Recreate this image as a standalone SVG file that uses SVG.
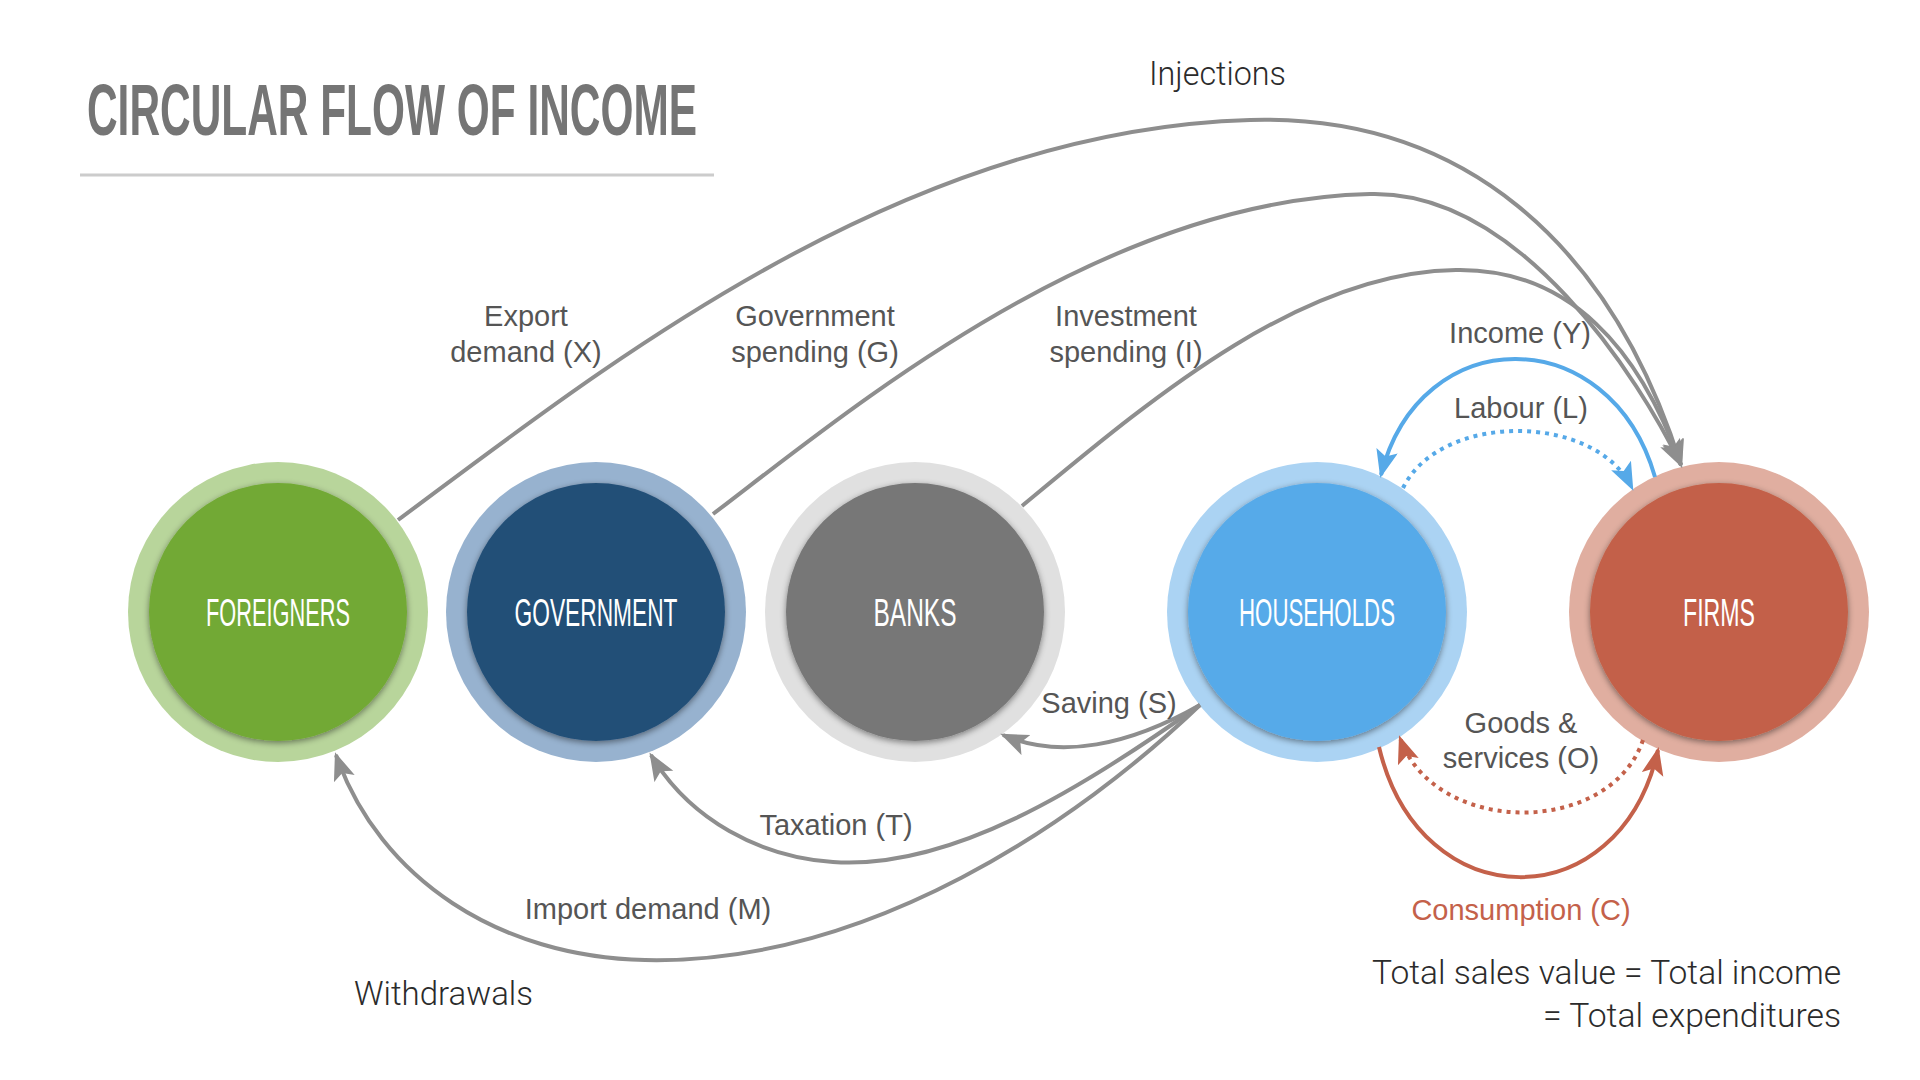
<svg xmlns="http://www.w3.org/2000/svg" width="1920" height="1080" viewBox="0 0 1920 1080">
<style>
.title{font-family:"Liberation Sans",Arial,sans-serif;font-weight:bold;font-size:72px;fill:#757575}
.node{font-family:"Liberation Sans",Arial,sans-serif;font-size:39px;fill:#ffffff;text-anchor:middle}
.lbl{font-family:"Liberation Sans",Arial,sans-serif;font-size:29px;fill:#555555;text-anchor:middle}
.light{font-family:Roboto,"Liberation Sans",sans-serif;font-weight:300;font-size:33px;fill:#2b2b2b}
.g{fill:none;stroke:#8e8e8e;stroke-width:4}
.b{fill:none;stroke:#56a9e8;stroke-width:4}
.r{fill:none;stroke:#c4614a;stroke-width:4}
.dot{stroke-dasharray:4 5}
</style>
<defs>
<filter id="sh" x="-20%" y="-20%" width="140%" height="140%">
<feDropShadow dx="0" dy="2" stdDeviation="3" flood-color="#000" flood-opacity="0.45"/>
</filter>
<marker id="ag" markerUnits="userSpaceOnUse" markerWidth="30" markerHeight="24" refX="25" refY="11" orient="auto"><path d="M0,0 L28,11 L0,22 L6,11 Z" fill="#8e8e8e"/></marker>
<marker id="ab" markerUnits="userSpaceOnUse" markerWidth="30" markerHeight="24" refX="25" refY="11" orient="auto"><path d="M0,0 L28,11 L0,22 L6,11 Z" fill="#56a9e8"/></marker>
<marker id="ar" markerUnits="userSpaceOnUse" markerWidth="30" markerHeight="24" refX="25" refY="11" orient="auto"><path d="M0,0 L28,11 L0,22 L6,11 Z" fill="#c4614a"/></marker>
</defs>
<rect width="1920" height="1080" fill="#ffffff"/>
<text class="title" x="87" y="135" textLength="610" lengthAdjust="spacingAndGlyphs">CIRCULAR FLOW OF INCOME</text>
<line x1="80" y1="175" x2="714" y2="175" stroke="#cccccc" stroke-width="3"/>

<g id="foreigners">
<circle cx="278" cy="612" r="150" fill="#b8d59b"/>
<circle cx="278" cy="612" r="129" fill="#72a934" filter="url(#sh)"/>
<text class="node" x="278" y="626" textLength="144" lengthAdjust="spacingAndGlyphs">FOREIGNERS</text>
</g>
<g id="government">
<circle cx="596" cy="612" r="150" fill="#97b2cf"/>
<circle cx="596" cy="612" r="129" fill="#244f77" filter="url(#sh)"/>
<text class="node" x="596" y="626" textLength="163" lengthAdjust="spacingAndGlyphs">GOVERNMENT</text>
</g>
<g id="banks">
<circle cx="915" cy="612" r="150" fill="#e0e0e0"/>
<circle cx="915" cy="612" r="129" fill="#777777" filter="url(#sh)"/>
<text class="node" x="915" y="626" textLength="83" lengthAdjust="spacingAndGlyphs">BANKS</text>
</g>
<g id="households">
<circle cx="1317" cy="612" r="150" fill="#abd3f3"/>
<circle cx="1317" cy="612" r="129" fill="#57aae9" filter="url(#sh)"/>
<text class="node" x="1317" y="626" textLength="156" lengthAdjust="spacingAndGlyphs">HOUSEHOLDS</text>
</g>
<g id="firms">
<circle cx="1719" cy="612" r="150" fill="#e0aea0"/>
<circle cx="1719" cy="612" r="129" fill="#c36148" filter="url(#sh)"/>
<text class="node" x="1719" y="626" textLength="72" lengthAdjust="spacingAndGlyphs">FIRMS</text>
</g>

<g id="connectors">
<path class="g" d="M398,520 C600,370 900,130 1250,120 C1460,114 1610,240 1681,465" marker-end="url(#ag)"/>
<path class="g" d="M713,514 C850,410 1100,200 1370,194 C1520,190 1640,380 1681,465" marker-end="url(#ag)"/>
<path class="g" d="M1022,506 C1150,400 1300,272 1456,270 C1570,268 1640,350 1681,465" marker-end="url(#ag)"/>
<path class="b" d="M1655,477 C1610,320 1420,320 1381,475" marker-end="url(#ab)"/>
<path class="b dot" d="M1403,488 C1440,412 1595,412 1632,488" marker-end="url(#ab)"/>
<path class="r" d="M1379,747 C1420,920 1620,920 1658,750" marker-end="url(#ar)"/>
<path class="r dot" d="M1643,740 C1610,837 1435,837 1400,738" marker-end="url(#ar)"/>
<path class="g" d="M1200,705 C1130,745 1060,760 1003,735" marker-end="url(#ag)"/>
<path class="g" d="M1200,705 C1080,790 950,870 833,862 C760,857 690,820 651,755" marker-end="url(#ag)"/>
<path class="g" d="M1200,705 C1080,820 870,965 645,960 C500,957 380,880 336,755" marker-end="url(#ag)"/>
</g>

<g id="labels">
<text class="lbl" x="526" y="326">Export</text>
<text class="lbl" x="526" y="362">demand (X)</text>
<text class="lbl" x="815" y="326">Government</text>
<text class="lbl" x="815" y="362">spending (G)</text>
<text class="lbl" x="1126" y="326">Investment</text>
<text class="lbl" x="1126" y="362">spending (I)</text>
<text class="lbl" x="1520" y="343">Income (Y)</text>
<text class="lbl" x="1521" y="418">Labour (L)</text>
<text class="lbl" x="1109" y="713">Saving (S)</text>
<text class="lbl" x="836" y="835">Taxation (T)</text>
<text class="lbl" x="648" y="919">Import demand (M)</text>
<text class="lbl" x="1521" y="733">Goods &amp;</text>
<text class="lbl" x="1521" y="768">services (O)</text>
<text class="lbl" x="1521" y="920" style="fill:#c4614a">Consumption (C)</text>
<text class="light" x="1149" y="85" textLength="137" lengthAdjust="spacingAndGlyphs">Injections</text>
<text class="light" x="354" y="1005" textLength="179" lengthAdjust="spacingAndGlyphs">Withdrawals</text>
<text class="light" x="1372" y="984" textLength="469" lengthAdjust="spacingAndGlyphs">Total sales value = Total income</text>
<text class="light" x="1543" y="1027" textLength="298" lengthAdjust="spacingAndGlyphs">= Total expenditures</text>
</g>
</svg>
